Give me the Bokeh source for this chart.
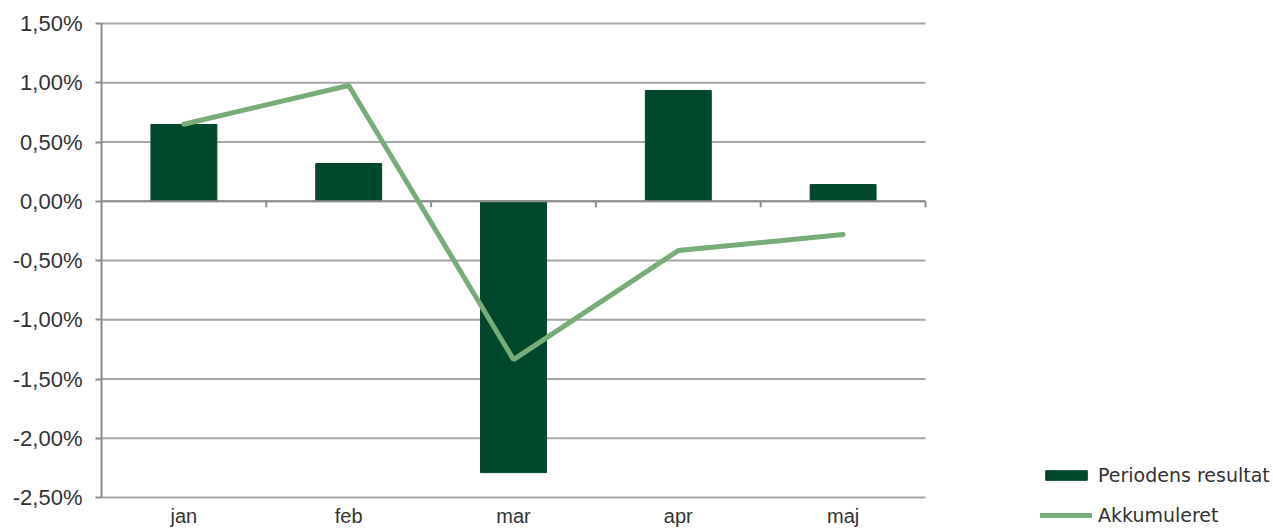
from bokeh.plotting import figure
from bokeh.models import Range1d, FixedTicker, Legend, LegendItem
from bokeh.core.properties import value
from bokeh.embed import file_html
from bokeh.resources import INLINE

months = ["jan", "feb", "mar", "apr", "maj"]
periodens = [0.648, 0.318, -2.29, 0.935, 0.141]
akkumuleret = [0.65, 0.977, -1.336, -0.416, -0.281]
y_ticks = [-2.5, -2.0, -1.5, -1.0, -0.5, 0.0, 0.5, 1.0, 1.5]
y_labels = ["-2,50%", "-2,00%", "-1,50%", "-1,00%", "-0,50%", "0,00%", "0,50%", "1,00%", "1,50%"]
series_names = ["Periodens resultat", "Akkumuleret"]

xs = list(range(len(months)))
bounds = [i + 0.5 for i in xs]
y_min, y_max = min(y_ticks), max(y_ticks)
x_lo, x_hi = -0.5, len(months) - 0.5

BAR = "#00482B"
LINE = "#78AC79"
GRID = "#A6A6A6"
AXIS = "#8C8C8C"
TEXT = "#333333"
FONT = "Arial, Liberation Sans"

# layout in pixels
W, H = 1273, 532
LEFT, TOP = 101, 20
PLOT_W, PLOT_H = 824, 474           # width of category area, height of value area
px_per_unit = PLOT_H / (y_max - y_min)
px_per_cat = PLOT_W / (x_hi - x_lo)
y_range = Range1d(y_min - (H - TOP - 3 - PLOT_H) / px_per_unit, y_max + 3 / px_per_unit)
x_range = Range1d(x_lo, x_lo + (W - LEFT) / px_per_cat)

p = figure(width=W, height=H, output_backend="svg", toolbar_location=None,
           x_range=x_range, y_range=y_range, x_axis_location=None,
           min_border_left=LEFT, min_border_right=0, min_border_top=TOP, min_border_bottom=0)
p.outline_line_color = None
p.background_fill_color = "white"
p.border_fill_color = "white"
p.grid.grid_line_color = None

# horizontal gridlines across the category area
p.segment(x0=[x_lo] * len(y_ticks), y0=y_ticks, x1=[x_hi] * len(y_ticks), y1=y_ticks,
          line_color=GRID, line_width=2)

# y axis
p.yaxis.bounds = (y_min, y_max)
p.yaxis.ticker = FixedTicker(ticks=y_ticks)
p.yaxis.major_label_overrides = {t: l for t, l in zip(y_ticks, y_labels)}
p.yaxis.axis_line_color = AXIS
p.yaxis.axis_line_width = 2
p.yaxis.major_tick_line_color = AXIS
p.yaxis.major_tick_line_width = 2
p.yaxis.major_tick_out = 6
p.yaxis.major_tick_in = 0
p.yaxis.minor_tick_line_color = None
p.yaxis.major_label_text_font = FONT
p.yaxis.major_label_text_font_size = "22px"
p.yaxis.major_label_text_color = TEXT
p.yaxis.major_label_standoff = 13

bars = p.vbar(x=xs, top=periodens, bottom=0, width=0.4, fill_color=BAR, line_color=BAR)

# category axis at zero with separators between categories
p.segment(x0=[x_lo], y0=[0], x1=[x_hi], y1=[0], line_color=AXIS, line_width=2)
p.segment(x0=bounds, y0=[0] * len(bounds), x1=bounds, y1=[-6 / px_per_unit] * len(bounds),
          line_color=AXIS, line_width=2)

ln = p.line(xs, akkumuleret, line_color=LINE, line_width=5, line_cap="round")

# category labels below the value area
p.text(x=xs, y=[y_min] * len(xs), text=months, text_align="center", text_baseline="top",
       y_offset=7, text_font=value(FONT), text_font_size="20px", text_color=TEXT)

legend = Legend(items=[LegendItem(label=series_names[0], renderers=[bars]),
                       LegendItem(label=series_names[1], renderers=[ln])],
                location=(939, 6), orientation="vertical",
                glyph_width=52, glyph_height=12, label_height=22, spacing=18,
                label_standoff=6, padding=0, margin=0,
                label_text_font="DejaVu Sans", label_text_font_size="19px",
                label_text_color=TEXT, border_line_color=None, background_fill_alpha=0)
p.add_layout(legend, "center")

open("out.html", "w").write(file_html(p, INLINE))
